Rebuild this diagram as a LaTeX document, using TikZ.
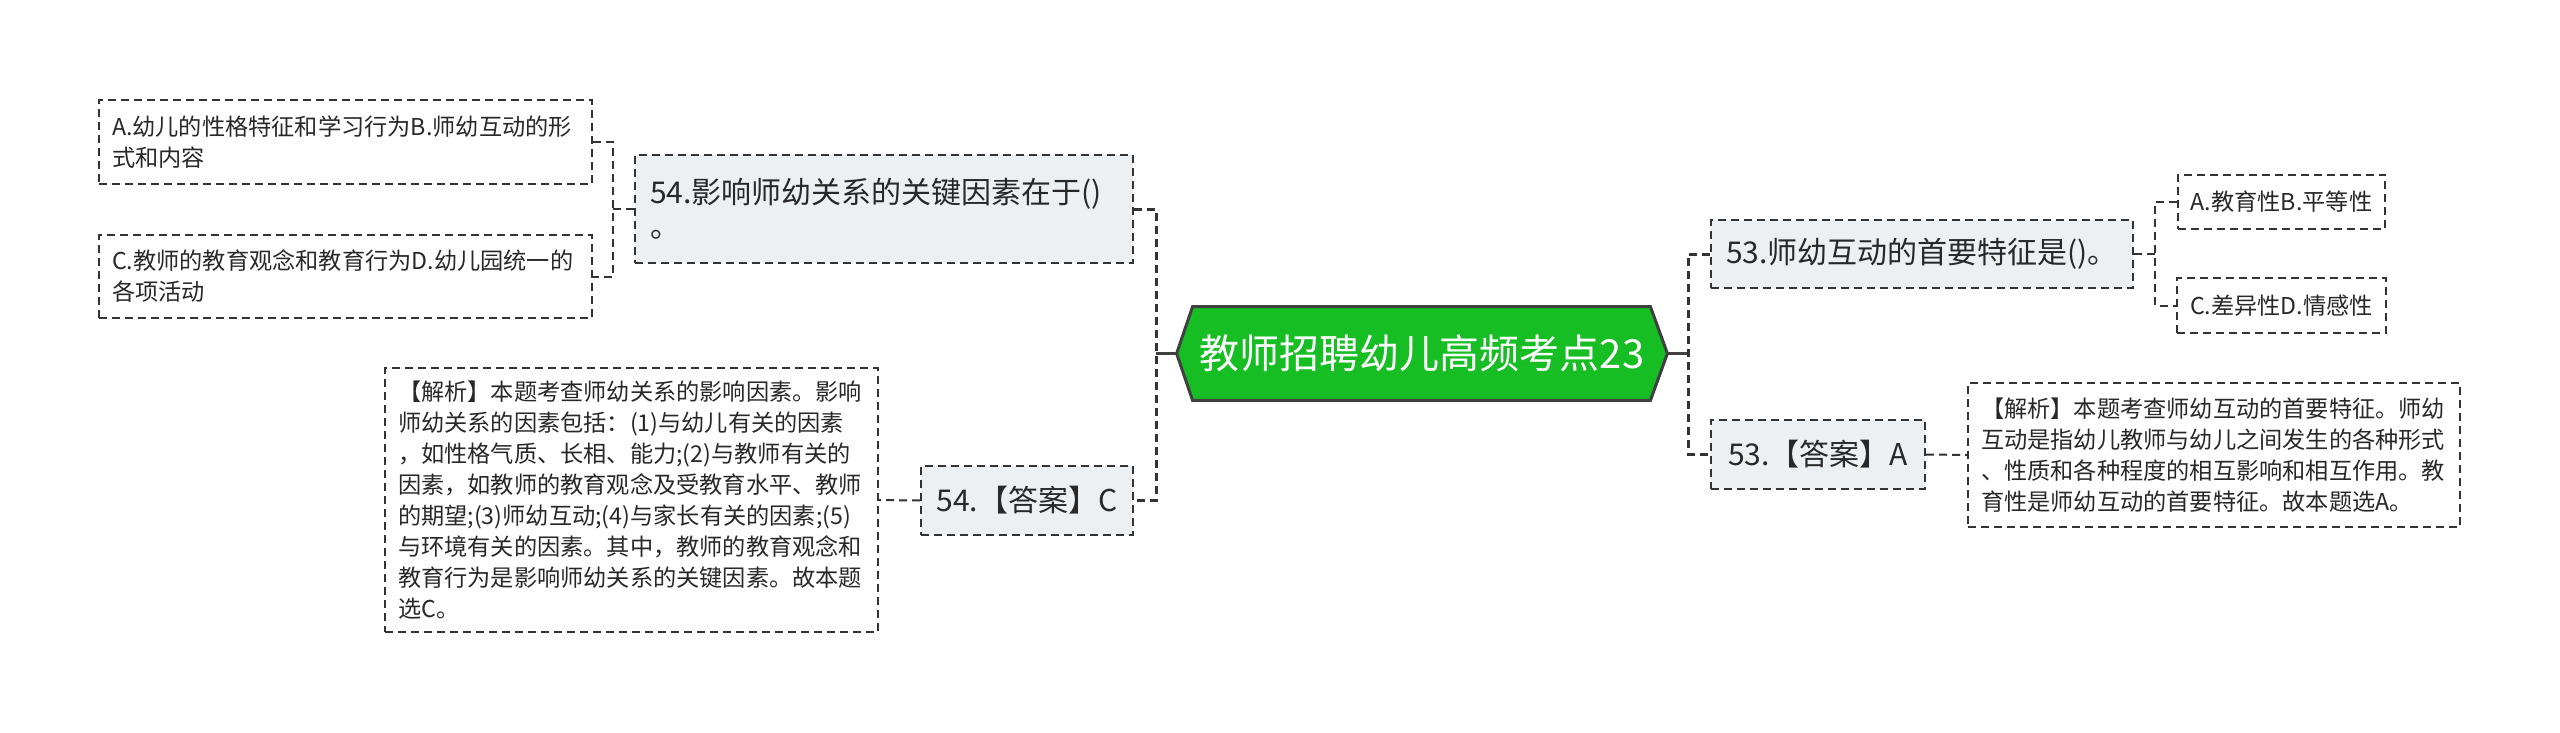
\documentclass[tikz,border=0pt]{standalone}
\usepackage{fontspec}
\setmainfont{Noto Sans CJK SC}
\pgfdeclarelayer{bg}
\pgfsetlayers{bg,main}
\definecolor{lineg}{RGB}{51,51,51}
\definecolor{txt}{RGB}{40,40,40}
\definecolor{qfill}{RGB}{237,240,243}
\definecolor{rootfill}{RGB}{22,190,36}
\definecolor{rootline}{RGB}{64,64,64}
\begin{document}
\begin{tikzpicture}[x=0.5pt,y=-0.5pt,
  dashbox/.style={draw=lineg, line width=1pt, dash pattern=on 4pt off 2.5pt, text=txt},
  qbox/.style={dashbox, fill=qfill, font=\fontsize{15pt}{17pt}\selectfont, inner sep=0pt},
  wbox/.style={dashbox, fill=white, font=\fontsize{11.6pt}{15.5pt}\selectfont, align=left, inner xsep=6.5pt, inner ysep=0pt},
  trunk/.style={draw=lineg, line width=1.5pt, dash pattern=on 4pt off 2.5pt},
  twig/.style={draw=lineg, line width=1pt, dash pattern=on 4pt off 2.5pt},
  rootlink/.style={draw=rootline, line width=1.5pt},
  roottext/.style={inner sep=0pt, minimum width=245pt, minimum height=46.5pt, text=white, font=\fontsize{20pt}{24pt}\selectfont},
]
\useasboundingbox (0,0) rectangle (2560,733);

% root
\node[roottext] (root) at (1422,353.5) {教师招聘幼儿高频考点23};
\begin{pgfonlayer}{bg}
\fill[white] (0,0) rectangle (2560,733);
\draw[draw=rootline, fill=rootfill, line width=1.5pt, line join=miter]
  (root.west) -- ([xshift=8pt]root.north west) -- ([xshift=-8.5pt]root.north east)
  -- (root.east) -- ([xshift=-8.5pt]root.south east) -- ([xshift=8pt]root.south west) -- cycle;
\end{pgfonlayer}

% left branch
\node[qbox, align=left, text width=234pt, inner xsep=7.5pt, minimum height=54pt] (q54) at (884,209)
  {54.影响师幼关系的关键因素在于()\\。};
\node[qbox, minimum width=106pt, minimum height=34.5pt] (a54) at (1027,500.5) {54.【答案】C};
\node[wbox, text width=233.5pt, minimum height=42pt] (optA) at (345.5,142)
  {A.幼儿的性格特征和学习行为B.师幼互动的形\\式和内容};
\node[wbox, text width=233.5pt, minimum height=41.5pt] (optC) at (345.5,276.5)
  {C.教师的教育观念和教育行为D.幼儿园统一的\\各项活动};
\node[wbox, text width=233.5pt, minimum height=132pt] (ana54) at (631.5,500)
  {【解析】本题考查师幼关系的影响因素。影响\\
   师幼关系的因素包括：(1)与幼儿有关的因素\\
   ，如性格气质、长相、能力;(2)与教师有关的\\
   因素，如教师的教育观念及受教育水平、教师\\
   的期望;(3)师幼互动;(4)与家长有关的因素;(5)\\
   与环境有关的因素。其中，教师的教育观念和\\
   教育行为是影响师幼关系的关键因素。故本题\\
   选C。};

% right branch
\node[qbox, minimum width=211pt, minimum height=34pt] (q53) at (1922,254) {53.师幼互动的首要特征是()。};
\node[qbox, minimum width=107pt, minimum height=34.5pt] (a53) at (1818,454.5) {53.【答案】A};
\node[wbox, minimum width=103.5pt, minimum height=27pt] (optAB) at (2281.5,202) {A.教育性B.平等性};
\node[wbox, minimum width=103.5pt, minimum height=27.5pt] (optCD) at (2281.5,305.5) {C.差异性D.情感性};
\node[wbox, text width=233pt, minimum height=72pt] (ana53) at (2214,455)
  {【解析】本题考查师幼互动的首要特征。师幼\\
   互动是指幼儿教师与幼儿之间发生的各种形式\\
   、性质和各种程度的相互影响和相互作用。教\\
   育性是师幼互动的首要特征。故本题选A。};

% connectors
\coordinate (lt) at (1156,353.5);
\coordinate (rt) at (1688,353.5);
\coordinate (lb) at (613,209);
\coordinate (rb) at (2155,254);

\draw[rootlink] (root.west) -- (lt);
\draw[rootlink] (root.east) -- (rt);
\draw[trunk] (q54.east) -| (lt) |- (a54.east);
\draw[trunk] (q53.west) -| (rt) |- (a53.west);

\draw[twig] (q54.west) -- (lb);
\draw[twig] (optA.east) -| (lb) |- (optC.east);
\draw[twig] (a54.west) -- (ana54.east);

\draw[twig] (q53.east) -- (rb);
\draw[twig] (optAB.west) -| (rb) |- (optCD.west);
\draw[twig] (a53.east) -- (ana53.west);
\end{tikzpicture}
\end{document}
